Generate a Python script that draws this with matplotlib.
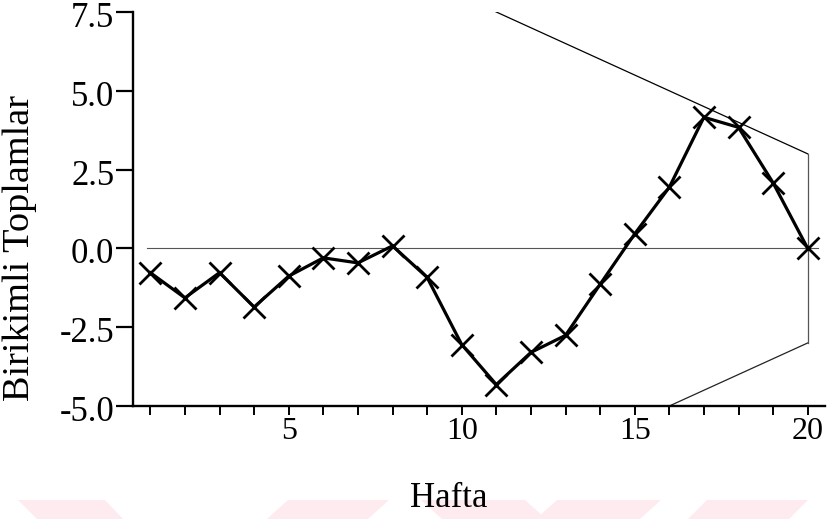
import matplotlib
matplotlib.use("Agg")
import matplotlib.pyplot as plt
from matplotlib.patches import Polygon
from matplotlib.transforms import ScaledTranslation
import numpy as np

# Weekly cumulative sums (CUSUM) with a V-mask anchored at the last week
weeks = list(range(1, 21))
cusum = [-0.77, -1.57, -0.77, -1.86, -0.88, -0.30, -0.46, 0.08, -0.92, -3.05,
         -4.32, -3.30, -2.76, -1.14, 0.46, 1.94, 4.16, 3.84, 2.08, 0.0]
mask_half_width = 3.0   # h : half-width of the V-mask at the anchor
mask_slope = 0.5        # k : slope of the mask arms
y_ticks = [-5.0, -2.5, 0.0, 2.5, 5.0, 7.5]
x_labelled = [5, 10, 15, 20]

plt.rcParams["font.family"] = ["Liberation Serif", "DejaVu Serif"]

W, H = 836, 519
fig = plt.figure(figsize=(W / 100, H / 100), dpi=100)

# faint decorative band along the bottom edge
def px(pts):
    return [(x / W, 1 - y / H) for x, y in pts]

band = [
    [(18, 500), (105, 500), (123, 519), (37, 519)],
    [(288, 500), (389, 500), (368, 519), (267, 519)],
    [(421, 500), (525, 500), (546, 519), (442, 519)],
    [(557, 500), (661, 500), (640, 519), (536, 519)],
    [(707, 500), (808, 500), (789, 519), (688, 519)],
]
for shape in band:
    fig.patches.append(Polygon(px(shape), closed=True, transform=fig.transFigure,
                               facecolor="#feebef", edgecolor="none", zorder=0))

ax = fig.add_axes([133 / W, 1 - 406 / H, (825 - 133) / W, (406 - 12) / H])
ax.set_facecolor("none")

ax.set_xlim(0.5, 20.5)
ax.set_ylim(-5.0, 7.5)

# zero reference line
ax.plot([0.9, 20.3], [0, 0], color="#555555", lw=0.8, zorder=1)

# V-mask
anchor_x = weeks[-1]
anchor_y = cusum[-1]
arm_x = np.array([weeks[0], anchor_x], dtype=float)
upper = anchor_y + mask_half_width + mask_slope * (anchor_x - arm_x)
lower = anchor_y - mask_half_width - mask_slope * (anchor_x - arm_x)
ax.plot(arm_x, upper, color="black", lw=0.9, zorder=2)
ax.plot(arm_x, lower, color="#222222", lw=0.9, zorder=2)
ax.plot([anchor_x, anchor_x], [anchor_y - mask_half_width, anchor_y + mask_half_width],
        color="#555555", lw=0.9, zorder=2)

# CUSUM series
ax.plot(weeks, cusum, color="black", lw=2.3, marker="x", markersize=16,
        markeredgewidth=2.0, zorder=3)

for side in ("top", "right"):
    ax.spines[side].set_visible(False)
for side in ("left", "bottom"):
    ax.spines[side].set_linewidth(1.7)

ax.set_yticks(y_ticks)
ax.set_yticklabels([f"{v:.1f}" for v in y_ticks])
ax.set_xticks(weeks)
ax.set_xticklabels([str(w) if w in x_labelled else "" for w in weeks])

ax.tick_params(axis="y", direction="out", length=12, width=1.6, pad=1.5, labelsize=25)
ax.tick_params(axis="x", direction="out", length=6.5, width=1.4, pad=1.5, labelsize=23)

# nudge the y tick labels slightly below their ticks
shift = ScaledTranslation(0, -2.5 / 100, fig.dpi_scale_trans)
for lbl in ax.get_yticklabels():
    lbl.set_transform(lbl.get_transform() + shift)

fig.text(20 / W, 1 - 248 / H, "Birikimli Toplamlar", rotation=90,
         ha="center", va="center", fontsize=27.5)
fig.text(449 / W, 1 - 507 / H, "Hafta", ha="center", va="baseline", fontsize=25)

fig.savefig("out.png", dpi=100)
